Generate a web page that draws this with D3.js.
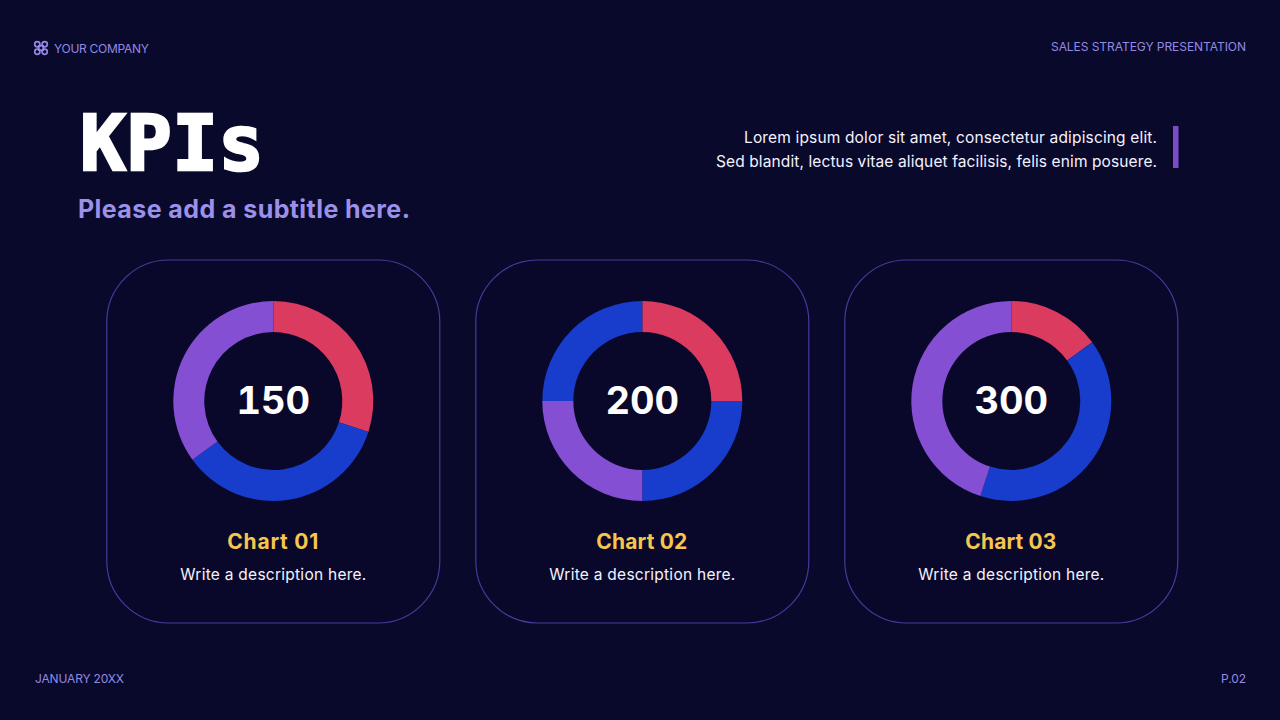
<!DOCTYPE html>
<html>
<head>
<meta charset="utf-8">
<script src="https://cdn.jsdelivr.net/npm/d3@7"></script>
<style>
  html, body { margin: 0; padding: 0; background: #09092b; }
  svg { display: block; }
  text { font-family: Inter, sans-serif; }
</style>
</head>
<body>
<div class="slide"></div>
<script>
// Data
const chartNames = ["Chart 01", "Chart 02", "Chart 03"];
const chartTotals = ["150", "200", "300"];
const chart1Values = [45, 52.5, 52.5];
const chart2Values = [50, 50, 50, 50];
const chart3Values = [45, 120, 135];
const chart1Colors = ["#dc3b60", "#183ccb", "#854fd4"];
const chart2Colors = ["#dc3b60", "#183ccb", "#854fd4", "#183ccb"];
const chart3Colors = ["#dc3b60", "#183ccb", "#854fd4"];
const blurbLines = [
  "Lorem ipsum dolor sit amet, consectetur adipiscing elit.",
  "Sed blandit, lectus vitae aliquet facilisis, felis enim posuere."
];
const blurbWidths = [413, 441];

const width = 1280, height = 720;
const lilac = "#9389e4";

const svg = d3.select(".slide").append("svg")
  .attr("width", width)
  .attr("height", height);

svg.append("rect").attr("width", width).attr("height", height).attr("fill", "#09092b");

// helper for the plain text labels, len = width measured on the picture
function label(x, y, str, size, weight, color, anchor, len) {
  const t = svg.append("text")
    .attr("x", x).attr("y", y)
    .attr("font-size", size)
    .attr("font-weight", weight)
    .attr("fill", color)
    .attr("text-anchor", anchor || "start")
    .text(str);
  if (len) t.attr("textLength", len).attr("lengthAdjust", "spacing");
  return t;
}

// Header and footer
const logo = svg.append("g").attr("fill", "none").attr("stroke", lilac).attr("stroke-width", 1.7);
[[37.3, 44.3], [44.7, 44.3], [37.3, 51.7], [44.7, 51.7]].forEach(p => {
  logo.append("circle").attr("cx", p[0]).attr("cy", p[1]).attr("r", 2.6);
});
logo.append("rect").attr("x", 38.8).attr("y", 45.8).attr("width", 4.4).attr("height", 4.4);
label(54, 52.5, "YOUR COMPANY", 12, 400, lilac, "start", 95);
label(1246, 51, "SALES STRATEGY PRESENTATION", 12, 400, lilac, "end", 195);
label(35, 683, "JANUARY 20XX", 12, 400, lilac, "start", 89);
label(1246, 683, "P.02", 12, 400, lilac, "end", 25);

// Title block, stroke thickens the mono bold up to the slab weight of the original
label(80, 170, "KPIs", 76, 700, "#ffffff", "start", 184)
  .style("font-family", "'DejaVu Sans Mono', monospace")
  .attr("stroke", "#ffffff")
  .attr("stroke-width", 2.6);
label(78, 218, "Please add a subtitle here.", 25, 700, "#9b90ea", "start", 332);

blurbLines.forEach((line, i) => {
  label(1157, 143 + i * 24, line, 15.5, 400, "#f4f2ff", "end", blurbWidths[i]);
});
svg.append("rect").attr("x", 1173).attr("y", 126).attr("width", 5.5).attr("height", 42).attr("fill", "#7a4cc8");

// Cards with donuts
const cardX = d3.scalePoint().domain(chartNames).range([273.3, 1011.3]);
const arc = d3.arc().innerRadius(69).outerRadius(100);
const pie = d3.pie().sort(null);

const allValues = [chart1Values, chart2Values, chart3Values];
const allColors = [chart1Colors, chart2Colors, chart3Colors];

chartNames.forEach((name, i) => {
  const cx = cardX(name);
  svg.append("rect")
    .attr("x", cx - 166.5).attr("y", 260)
    .attr("width", 333).attr("height", 363)
    .attr("rx", 62).attr("ry", 62)
    .attr("fill", "#0a082a")
    .attr("stroke", "#423c9c")
    .attr("stroke-width", 1.2);

  const g = svg.append("g").attr("transform", `translate(${cx},401)`);
  g.selectAll("path")
    .data(pie(allValues[i]))
    .enter()
    .append("path")
    .attr("d", arc)
    .attr("fill", (d, j) => allColors[i][j]);

  label(cx, 413.5, chartTotals[i], 38, 700, "#ffffff", "middle")
    .style("font-variant-numeric", "tabular-nums");
  label(cx - 0.5, 549, name, 21, 700, "#f7c64f", "middle", 91);
  label(cx, 580, "Write a description here.", 15.5, 400, "#f4f2ff", "middle", 186);
});
</script>
</body>
</html>
